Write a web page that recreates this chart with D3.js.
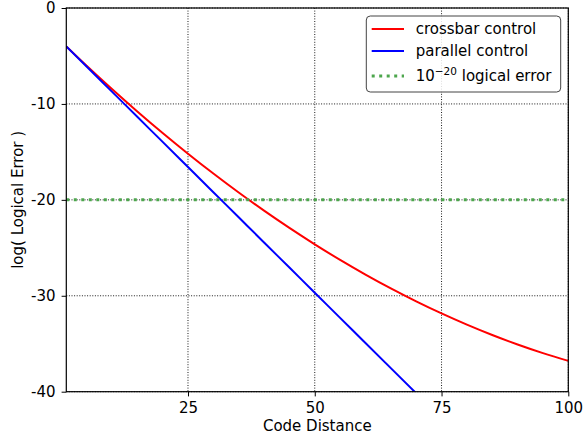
<!DOCTYPE html>
<html><head><meta charset="utf-8">
<script src="https://cdn.jsdelivr.net/npm/d3@7"></script>
<style>body{margin:0;background:#fff;} text{font-family:"DejaVu Sans",sans-serif;}</style>
</head><body><svg id="c" width="584" height="437"></svg>
<script>
const distances = [1,5,10,15,20,25,30,35,40,45,50,55,60,65,70,75,80,85,90,95,100];
const crossbar = [-4.0,-6.01,-8.44,-10.78,-13.03,-15.19,-17.26,-19.24,-21.13,-22.93,-24.64,-26.26,-27.79,-29.23,-30.58,-31.84,-33.01,-34.09,-35.08,-35.98,-36.79];
const parallelD = [1,5,10,15,20,25,30,35,40,45,50,55,60,65,70];
const parallel = [-4.0,-6.10,-8.72,-11.34,-13.96,-16.58,-19.20,-21.82,-24.44,-27.06,-29.68,-32.30,-34.92,-37.54,-40.16];
const threshold = -20;
const xTicks = [25,50,75,100];
const yTicks = [0,-10,-20,-30,-40];
const seriesNames = ["crossbar control","parallel control"];

const svg = d3.select("#c");
const L=66.3, R=568.3, T=8, B=391.7;
const x = d3.scaleLinear().domain([1,100]).range([L,R]);
const y = d3.scaleLinear().domain([-40,0]).range([B,T]);

svg.append("defs").append("clipPath").attr("id","clip")
  .append("rect").attr("x",L).attr("y",T).attr("width",R-L).attr("height",B-T);

// grid
const grid = svg.append("g").attr("stroke","#000").attr("stroke-width",0.9).attr("stroke-dasharray","1,1.6");
grid.selectAll(".gx").data(xTicks).join("line").attr("x1",d=>x(d)).attr("x2",d=>x(d)).attr("y1",T).attr("y2",B);
grid.selectAll(".gy").data(yTicks).join("line").attr("y1",d=>y(d)).attr("y2",d=>y(d)).attr("x1",L).attr("x2",R);

const plot = svg.append("g").attr("clip-path","url(#clip)");
const line = d3.line().curve(d3.curveMonotoneX);
plot.append("path").attr("fill","none").attr("stroke","#ff0000").attr("stroke-width",2)
  .attr("d", line(distances.map((d,i)=>[x(d),y(crossbar[i])])));
plot.append("path").attr("fill","none").attr("stroke","#0000ff").attr("stroke-width",2)
  .attr("d", line(parallelD.map((d,i)=>[x(d),y(parallel[i])])));
plot.append("line").attr("x1",L).attr("x2",R).attr("y1",y(threshold)).attr("y2",y(threshold))
  .attr("stroke","#4da64d").attr("stroke-width",3).attr("stroke-dasharray","3,4.5");

// axes
const fs = "15px";
const xa = svg.append("g").attr("transform",`translate(0,${B})`)
  .call(d3.axisBottom(x).tickValues(xTicks).tickSize(4.7).tickPadding(6));
const ya = svg.append("g").attr("transform",`translate(${L},0)`)
  .call(d3.axisLeft(y).tickValues(yTicks).tickSize(4.7).tickPadding(6).tickFormat(d=>d===0?"0":String(d)));
[xa,ya].forEach(a=>{a.select(".domain").remove(); a.selectAll("text").attr("font-size",fs).attr("font-family","DejaVu Sans").attr("fill","#000"); a.selectAll("line").attr("stroke","#000");});
svg.append("rect").attr("x",L).attr("y",T).attr("width",R-L).attr("height",B-T)
  .attr("fill","none").attr("stroke","#000").attr("stroke-width",1.2);

svg.append("text").attr("x",(L+R)/2).attr("y",431).attr("text-anchor","middle").attr("font-size",fs).text("Code Distance");
svg.append("text").attr("transform",`translate(23,${(T+B)/2}) rotate(-90)`).attr("text-anchor","middle").attr("font-size",fs).text("log( Logical Error )");

// legend
const lg = svg.append("g");
lg.append("rect").attr("x",366.3).attr("y",16).attr("width",194.4).attr("height",76).attr("rx",4)
  .attr("fill","#fff").attr("fill-opacity",0.85).attr("stroke","#444").attr("stroke-width",1);
const items = [
  {label: seriesNames[0], color:"#ff0000", dash:null, w:2, yy:29},
  {label: seriesNames[1], color:"#0000ff", dash:null, w:2, yy:51},
  {label: null, color:"#4da64d", dash:"3,4.5", w:3, yy:76}
];
items.forEach(it=>{
  lg.append("line").attr("x1",371.7).attr("x2",404).attr("y1",it.yy).attr("y2",it.yy)
    .attr("stroke",it.color).attr("stroke-width",it.w).attr("stroke-dasharray",it.dash);
  const t = lg.append("text").attr("x",415.7).attr("y",it.yy+5).attr("font-size",fs);
  if (it.label) t.text(it.label);
  else {
    t.append("tspan").text("10");
    t.append("tspan").attr("dy",-6).attr("font-size","10.5px").text("\u221220");
    t.append("tspan").attr("dy",6).text(" logical error");
  }
});
</script></body></html>
